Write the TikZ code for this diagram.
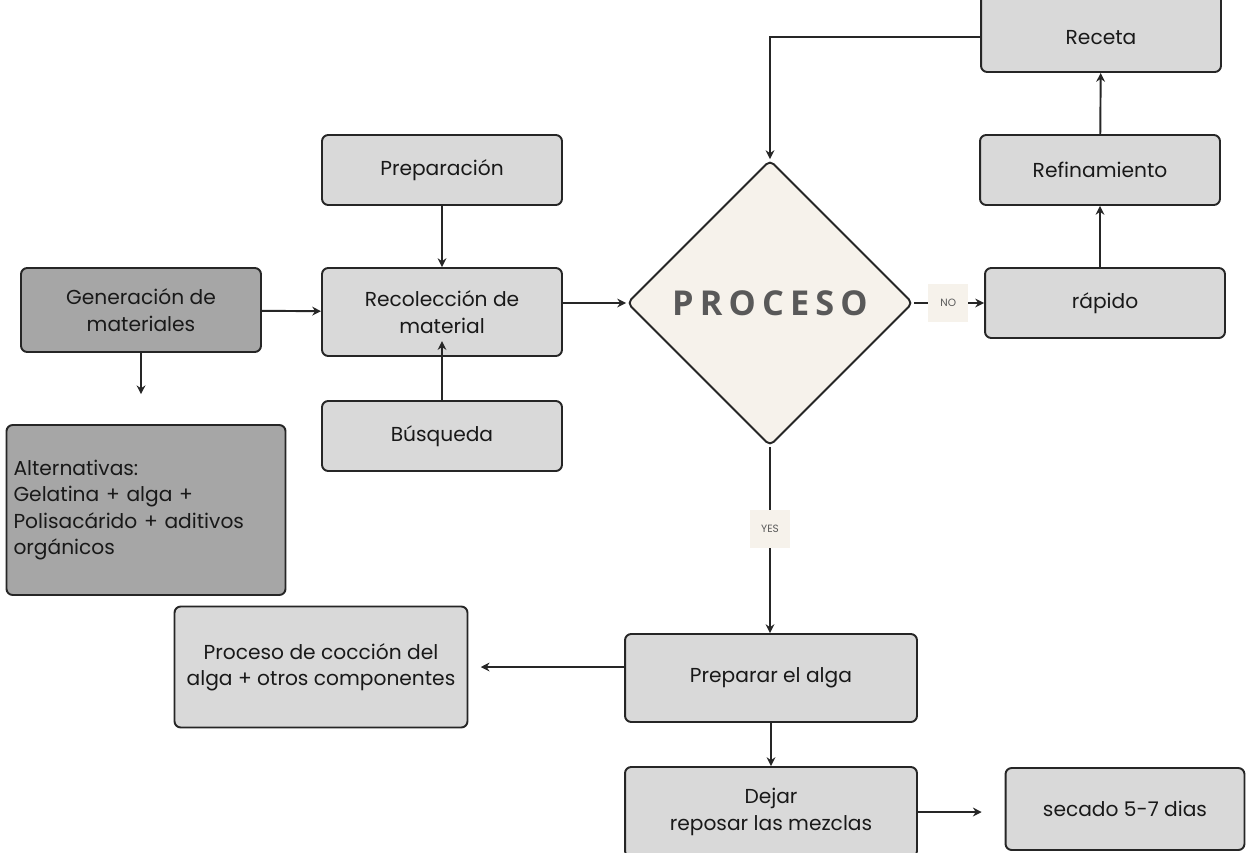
\documentclass[tikz,border=0pt]{standalone}
\usepackage{fontspec}
\setmainfont{Poppins}
\newfontfamily\procfont[LetterSpace=18]{Open Sans}
\usepackage{tikz}
\usetikzlibrary{shapes.geometric,arrows.meta}

\definecolor{boxgray}{HTML}{D9D9D9}
\definecolor{darkgray}{HTML}{A6A6A6}
\definecolor{cream}{HTML}{F6F2EB}
\definecolor{txtgray}{HTML}{595959}

\tikzset{
  stepbox/.style={draw=black!85, line width=1.1pt, fill=boxgray, rounded corners=3.5pt, align=center, font=\fontsize{11.5}{15}\selectfont, text=black!90},
  darkbox/.style={stepbox, fill=darkgray},
  tag/.style={fill=cream, inner sep=0pt, minimum width=0.8cm, minimum height=0.76cm, font=\fontsize{6}{7}\selectfont, text=txtgray},
  link/.style={line width=1.1pt, black!85, -{Stealth[length=5pt,width=5pt]}}
}

\begin{document}
\begin{tikzpicture}[x=0.02cm, y=-0.02cm]
\useasboundingbox (0, 0) rectangle (1247, 852);

\node[stepbox, minimum width=4.8cm, minimum height=1.68cm] (receta) at (1101, 30) {\smash{\raisebox{-8pt}{Receta}}};
\node[stepbox, minimum width=4.8cm, minimum height=1.4cm] (refin) at (1100, 170) {Refinamiento};
\node[stepbox, minimum width=4.8cm, minimum height=1.4cm] (rapido) at (1105, 303) {rápido};

\node[stepbox, minimum width=4.8cm, minimum height=1.4cm] (prep) at (442, 170) {Preparación};
\node[stepbox, minimum width=4.8cm, minimum height=1.76cm] (recol) at (442, 312) {Recolección de\\material};
\node[stepbox, minimum width=4.8cm, minimum height=1.4cm] (busq) at (442, 436) {Búsqueda};

\node[darkbox, minimum width=4.8cm, minimum height=1.68cm] (gen) at (141, 310) {Generación de\\materiales};
\node[darkbox, minimum width=5.44cm, minimum height=3.4cm, align=left, text width=5.3cm, inner xsep=4pt] (alt) at (146, 510)
  {Alternativas:\\Gelatina + alga +\\Polisacárido + aditivos\\orgánicos};

\node[diamond, aspect=1, draw=black!85, line width=1.1pt, fill=cream, rounded corners=3pt, inner sep=0pt,
  minimum size=5.72cm, text=txtgray, font=\procfont\bfseries\fontsize{19.5}{22}\selectfont] (proc) at (770, 303) {PROCESO};

\node[stepbox, minimum width=5.84cm, minimum height=1.76cm] (alga) at (771, 678) {Preparar el alga};
\node[stepbox, minimum width=5.86cm, minimum height=2.42cm] (coccion) at (321, 667) {Proceso de cocción del\\alga + otros componentes};
\node[stepbox, minimum width=5.84cm, minimum height=1.8cm] (dejar) at (771, 812) {Dejar\\reposar las mezclas};
\node[stepbox, minimum width=4.78cm, minimum height=1.64cm] (secado) at (1125, 809) {secado 5-7 dias};

\coordinate (corner) at (770, 37);

\draw[link] (receta.west |- corner) -- (corner) -- (proc.north);
\draw[link] (refin) -- (receta);
\draw[link] (rapido.north -| refin) -- (refin);
\draw[link] (proc.east) -- (rapido.west |- proc.east) node[tag, pos=0.49] (no) {NO};
\draw[link] (proc.south) -- (alga.north -| proc.south) node[tag, pos=0.44] (yes) {YES};
\draw[link] (alga.west |- coccion) -- ([xshift=7pt]coccion.east);
\draw[link] (alga.south) -- (dejar.north);
\draw[link, shorten >=13pt] (dejar.east) -- (secado.west |- dejar.east);
\draw[link] (gen) -- (recol);
\draw[link, shorten >=17pt] (gen.south) -- (alt.north -| gen.south);
\draw[link] (prep) -- (recol);
\draw[link] (busq) -- ([yshift=9pt]recol.south);
\draw[link] (recol.east |- proc.west) -- (proc.west);

\end{tikzpicture}
\end{document}
